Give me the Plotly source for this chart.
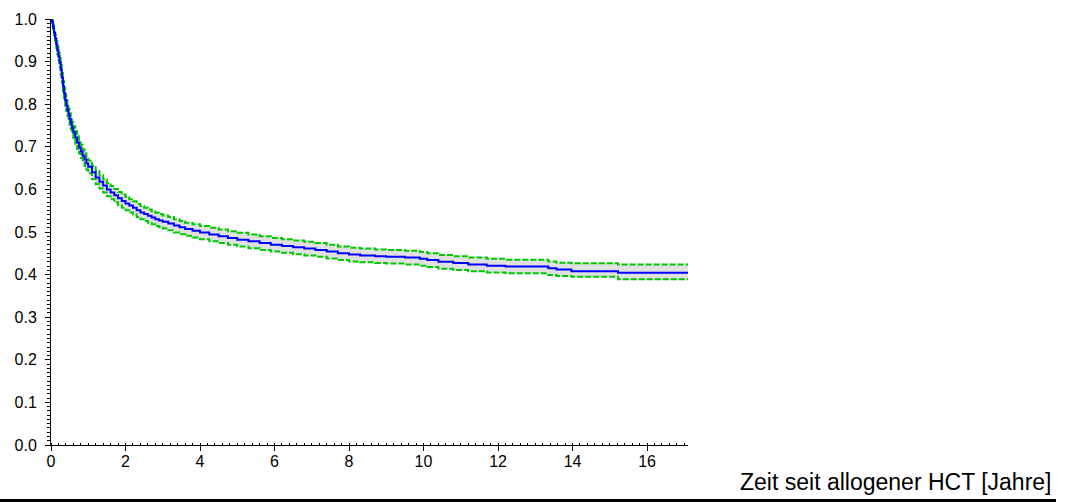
import plotly.graph_objects as go

# Kaplan-Meier estimate: event times (years) and survival probability
time_years = [0.00, 0.02, 0.05, 0.08, 0.11, 0.14, 0.17, 0.20, 0.23, 0.26,
              0.29, 0.32, 0.35, 0.38, 0.41, 0.44, 0.47, 0.50, 0.53, 0.56,
              0.60, 0.65, 0.70, 0.75, 0.80, 0.85, 0.90, 0.95, 1.00,
              1.10, 1.20, 1.30, 1.40, 1.50, 1.60, 1.70, 1.80, 1.90, 2.00,
              2.10, 2.20, 2.30, 2.40, 2.50, 2.60, 2.70, 2.80, 2.90, 3.00,
              3.15, 3.30, 3.45, 3.60, 3.80, 4.00,
              4.25, 4.50, 4.75, 5.00, 5.30, 5.60, 5.90, 6.20, 6.50, 6.80,
              7.10, 7.40, 7.70, 8.00, 8.30, 8.70, 9.00, 9.50, 9.90, 10.10,
              10.40, 10.80, 11.20, 11.70, 12.20, 13.35, 13.57, 13.97, 15.22, 17.19]
survival = [1.000, 0.994, 0.982, 0.968, 0.955, 0.940, 0.926, 0.912, 0.898, 0.881,
            0.862, 0.843, 0.826, 0.810, 0.797, 0.786, 0.775, 0.765, 0.755, 0.745,
            0.734, 0.722, 0.710, 0.699, 0.689, 0.679, 0.670, 0.661, 0.653,
            0.640, 0.628, 0.618, 0.609, 0.600, 0.593, 0.586, 0.579, 0.573, 0.567,
            0.562, 0.557, 0.551, 0.546, 0.542, 0.538, 0.534, 0.530, 0.527, 0.524,
            0.520, 0.515, 0.511, 0.507, 0.503, 0.499,
            0.494, 0.490, 0.486, 0.482, 0.478, 0.474, 0.470, 0.467, 0.464, 0.461,
            0.458, 0.454, 0.450, 0.447, 0.445, 0.443, 0.442, 0.440, 0.437, 0.434,
            0.430, 0.427, 0.424, 0.421, 0.419, 0.415, 0.412, 0.408, 0.4045, 0.4045]
# 95% confidence limits at the same times
upper_ci = [1.000, 0.997, 0.987, 0.974, 0.962, 0.948, 0.935, 0.921, 0.908, 0.892,
            0.873, 0.855, 0.838, 0.823, 0.810, 0.799, 0.789, 0.779, 0.769, 0.759,
            0.748, 0.737, 0.725, 0.714, 0.704, 0.694, 0.685, 0.676, 0.668,
            0.655, 0.643, 0.633, 0.624, 0.615, 0.608, 0.601, 0.594, 0.588, 0.582,
            0.577, 0.572, 0.566, 0.561, 0.557, 0.553, 0.549, 0.545, 0.542, 0.539,
            0.535, 0.530, 0.526, 0.522, 0.518, 0.514,
            0.510, 0.506, 0.502, 0.498, 0.494, 0.490, 0.486, 0.483, 0.480, 0.477,
            0.474, 0.470, 0.466, 0.463, 0.461, 0.459, 0.458, 0.456, 0.453, 0.450,
            0.446, 0.443, 0.440, 0.437, 0.435, 0.431, 0.428, 0.4265, 0.424, 0.424]
lower_ci = [1.000, 0.991, 0.977, 0.962, 0.948, 0.932, 0.917, 0.903, 0.888, 0.870,
            0.851, 0.831, 0.814, 0.797, 0.784, 0.773, 0.761, 0.751, 0.741, 0.731,
            0.720, 0.707, 0.695, 0.684, 0.674, 0.664, 0.655, 0.646, 0.638,
            0.624, 0.612, 0.602, 0.593, 0.584, 0.577, 0.570, 0.563, 0.557, 0.551,
            0.546, 0.541, 0.535, 0.530, 0.526, 0.522, 0.518, 0.514, 0.511, 0.508,
            0.504, 0.499, 0.495, 0.491, 0.487, 0.483,
            0.478, 0.474, 0.470, 0.466, 0.462, 0.458, 0.454, 0.451, 0.448, 0.445,
            0.442, 0.438, 0.434, 0.431, 0.429, 0.427, 0.426, 0.424, 0.421, 0.418,
            0.414, 0.411, 0.408, 0.405, 0.403, 0.399, 0.397, 0.395, 0.389, 0.389]

x_ticks = [0, 2, 4, 6, 8, 10, 12, 14, 16]
y_ticks = [0.0, 0.1, 0.2, 0.3, 0.4, 0.5, 0.6, 0.7, 0.8, 0.9, 1.0]
x_title = "Zeit seit allogener HCT [Jahre]"

FONT = "Liberation Sans, Arial, sans-serif"
GREEN = "#00c800"
DASH = "6px,2px"

fig = go.Figure()

# shaded confidence band between the limits
fig.add_trace(go.Scatter(x=time_years, y=lower_ci, mode="lines",
                         line=dict(color="rgba(0,0,0,0)", width=0, shape="hv"),
                         hoverinfo="skip", showlegend=False))
fig.add_trace(go.Scatter(x=time_years, y=upper_ci, mode="lines",
                         line=dict(color="rgba(0,0,0,0)", width=0, shape="hv"),
                         fill="tonexty", fillcolor="#e0e0e0",
                         hoverinfo="skip", showlegend=False))
# dashed confidence limits
for limit in (upper_ci, lower_ci):
    fig.add_trace(go.Scatter(x=time_years, y=limit, mode="lines",
                             line=dict(color=GREEN, width=2, dash=DASH, shape="hv"),
                             hoverinfo="skip", showlegend=False))
# survival estimate
fig.add_trace(go.Scatter(x=time_years, y=survival, mode="lines",
                         line=dict(color="#0000ff", width=2, shape="hv"),
                         showlegend=False))

# plot area in pixels: x 51..688, y 19..445
L, R, T, B = 51, 688, 19, 445
W, H = R - L, B - T

fig.update_layout(
    width=1066, height=502,
    margin=dict(l=L, r=1066 - R, t=T, b=502 - B, pad=0),
    paper_bgcolor="white", plot_bgcolor="white",
    font=dict(family=FONT, size=16, color="black"),
    xaxis=dict(range=[0, 17.1], tickvals=x_ticks, ticktext=[str(v) for v in x_ticks],
               showgrid=False, zeroline=False, showline=True, linecolor="black",
               linewidth=1, ticks="outside", ticklen=5, tickcolor="black",
               ticklabelstandoff=-3,
               minor=dict(dtick=0.2, ticks="inside", ticklen=2, tickcolor="black",
                          showgrid=False)),
    yaxis=dict(range=[0, 1], tickvals=y_ticks, ticktext=[f"{v:.1f}" for v in y_ticks],
               showgrid=False, zeroline=False, showline=True, linecolor="black",
               linewidth=1, ticks="outside", ticklen=5, tickcolor="black",
               ticklabelstandoff=5,
               minor=dict(dtick=0.01, ticks="outside", ticklen=3, tickcolor="black",
                          showgrid=False)),
)

# bottom rule with the axis title above it at the right
fig.add_shape(type="line", xref="paper", yref="paper",
              x0=(0 - L) / W, x1=(1056 - L) / W,
              y0=(B - 500.5) / H, y1=(B - 500.5) / H,
              line=dict(color="black", width=3))
fig.add_annotation(text=x_title, xref="paper", yref="paper",
                   x=(1054 - L) / W, y=(B - 497) / H,
                   xanchor="right", yanchor="bottom", showarrow=False,
                   font=dict(family=FONT, size=23, color="black"))

fig.write_html("out.html")
